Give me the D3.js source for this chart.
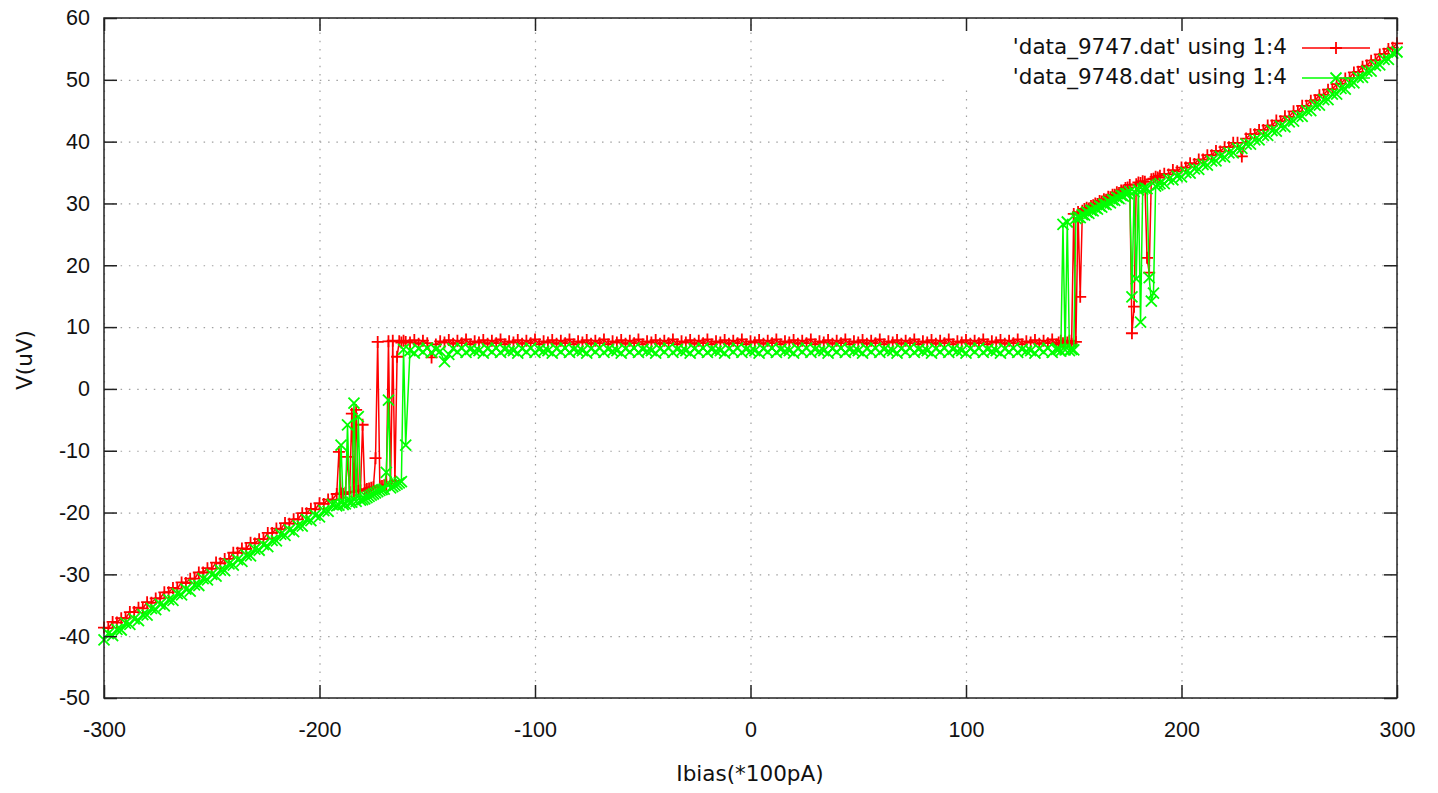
<!DOCTYPE html>
<html lang="en">
<head>
<meta charset="UTF-8">
<title>V(uV) vs Ibias</title>
<script src="https://d3js.org/d3.v7.min.js"></script>
<style>
  body { margin: 0; background: #fff; }
  svg { display: block; font-family: "DejaVu Sans", sans-serif; }
  .axis .tick text { font-size: 21.5px; fill: #111; }
  .axis path, .grid path { display: none; }
  .axis line { stroke: #222; stroke-width: 1.5; }
  .grid line { stroke: #a0a0a0; stroke-width: 1.2; stroke-dasharray: 1.5 6.8; }
  .label, .legend text { font-size: 21.5px; fill: #111; }
</style>
</head>
<body>
<div id="chart"></div>
<script>

// sweep points (Ibias, *100pA)
const ibias = [
  -300,-298,-296,-294,-292,-290,-288,-286,-284,-282,
  -280,-278,-276,-274,-272,-270,-268,-266,-264,-262,
  -260,-258,-256,-254,-252,-250,-248,-246,-244,-242,
  -240,-238,-236,-234,-232,-230,-228,-226,-224,-222,
  -220,-218,-216,-214,-212,-210,-208,-206,-204,-202,
  -200,-198,-196,-194,-192,
  -191,-190,-189,-188,-187,-186,-185,-184,-183,-182,
  -181,-180,-179,-178,-177,-176,-175,-174,-173,-172,
  -171,-170,-169,-168,-167,-166,-165,-164,-163,-162,
  -161,-160,
  -158,-156,-154,-152,-150,-148,-146,-144,-142,-140,
  -138,-136,-134,-132,-130,-128,-126,-124,-122,-120,
  -118,-116,-114,-112,-110,-108,-106,-104,-102,-100,
  -98,-96,-94,-92,-90,-88,-86,-84,-82,-80,
  -78,-76,-74,-72,-70,-68,-66,-64,-62,-60,
  -58,-56,-54,-52,-50,-48,-46,-44,-42,-40,
  -38,-36,-34,-32,-30,-28,-26,-24,-22,-20,
  -18,-16,-14,-12,-10,-8,-6,-4,-2,0,
  2,4,6,8,10,12,14,16,18,20,
  22,24,26,28,30,32,34,36,38,40,
  42,44,46,48,50,52,54,56,58,60,
  62,64,66,68,70,72,74,76,78,80,
  82,84,86,88,90,92,94,96,98,100,
  102,104,106,108,110,112,114,116,118,120,
  122,124,126,128,130,132,134,136,138,140,
  142,
  143,144,145,146,147,148,149,150,151,152,153,154,155,156,
  157,158,159,160,161,162,163,164,165,166,167,168,169,170,171,172,173,174,
  175,176,177,178,179,180,181,182,183,184,185,186,187,188,189,190,
  192,194,196,198,200,
  202,204,206,208,210,212,214,216,218,220,222,224,226,
  228,230,232,234,236,238,240,242,244,246,248,250,
  252,254,256,258,260,262,264,266,268,270,272,274,276,
  278,280,282,284,286,288,290,292,294,296,298,300
];

// 'data_9747.dat' column 4 (uV)
const v9747 = [
  -38.6,-38.7,-37.7,-37.8,-37.1,-37.1,-36.1,-36.1,-35.4,-35.5,
  -34.5,-34.6,-33.9,-33.9,-32.9,-32.9,-32.2,-32.3,-31.3,-31.4,
  -30.7,-30.7,-29.7,-29.7,-29.0,-29.1,-28.1,-28.2,-27.5,-27.5,
  -26.5,-26.5,-25.8,-25.9,-24.9,-25.0,-24.3,-24.3,-23.3,-23.3,
  -22.6,-22.7,-21.7,-21.8,-21.1,-21.1,-20.1,-20.1,-19.4,-19.5,
  -18.5,-18.6,-17.9,-17.9,-17.0,
  -10.2,-16.9,-17.0,-16.8,-11.0,-16.7,-4.0,-16.6,-3.4,-16.5,
  -16.4,-5.8,-16.3,-16.2,-16.1,-16.0,-15.9,-11.2,7.6,-15.8,
  -15.7,-15.6,-15.5,7.7,-15.3,7.8,-14.9,5.2,7.7,7.5,
  7.8,7.6,
  7.5,7.9,7.3,7.8,7.4,5.1,7.2,7.7,
  7.5,7.9,7.3,7.8,7.4,8.0,7.2,7.7,
  7.5,7.9,7.3,7.8,7.4,8.0,7.2,7.7,
  7.5,7.9,7.3,7.8,7.4,8.0,7.2,7.7,
  7.5,7.9,7.3,7.8,7.4,8.0,7.2,7.7,
  7.5,7.9,7.3,7.8,7.4,8.0,7.2,7.7,
  7.5,7.9,7.3,7.8,7.4,8.0,7.2,7.7,
  7.5,7.9,7.3,7.8,7.4,8.0,7.2,7.7,
  7.5,7.9,7.3,7.8,7.4,8.0,7.2,7.7,
  7.5,7.9,7.3,7.8,7.4,8.0,7.2,7.7,
  7.5,7.9,7.3,7.8,7.4,8.0,7.2,7.7,
  7.5,7.9,7.3,7.8,7.4,8.0,7.2,7.7,
  7.5,7.9,7.3,7.8,7.4,8.0,7.2,7.7,
  7.5,7.9,7.3,7.8,7.4,8.0,7.2,7.7,
  7.5,7.9,7.3,7.8,7.4,8.0,7.2,7.7,
  7.5,7.9,7.3,7.8,7.4,8.0,7.2,7.7,
  7.5,7.9,7.3,7.8,7.4,8.0,7.2,7.7,
  7.5,7.9,7.3,7.8,7.4,8.0,7.2,7.7,
  7.5,7.9,7.3,7.8,7.4,8.0,7.2,
  7.5,7.8,7.4,7.7,7.5,7.8,7.3,28.3,7.6,28.6,14.9,28.8,29.1,29.3,
  29.2,29.6,29.7,30.0,29.9,30.4,30.3,30.7,30.6,31.1,31.0,31.4,31.4,31.8,31.7,32.1,32.1,32.5,
  32.6,33.0,9.0,13.3,33.1,33.4,33.3,33.6,33.5,21.2,18.8,33.9,34.0,34.3,34.2,34.5,
  34.8,34.7,35.4,35.2,35.8,
  35.8,36.5,36.4,37.1,37.1,37.8,37.8,38.5,38.4,39.1,39.1,39.8,39.8,
  37.6,40.5,41.2,41.2,41.9,41.9,42.6,42.6,43.4,43.3,44.1,44.0,
  44.9,44.9,45.8,45.8,46.6,46.7,47.5,47.6,48.4,48.5,49.3,49.4,50.2,
  50.3,51.2,51.3,52.1,52.3,53.1,53.2,54.1,54.2,55.0,55.2,55.9
];

// 'data_9748.dat' column 4 (uV)
const v9748 = [
  -40.6,-39.6,-39.9,-38.9,-39.0,-37.9,-38.1,-37.2,-37.5,-36.5,
  -36.6,-35.5,-35.7,-34.8,-35.1,-34.1,-34.2,-33.1,-33.3,-32.4,
  -32.7,-31.7,-31.8,-30.7,-30.9,-30.0,-30.3,-29.3,-29.4,-28.3,
  -28.5,-27.6,-27.9,-26.9,-27.0,-25.9,-26.1,-25.2,-25.5,-24.5,
  -24.6,-23.5,-23.7,-22.8,-23.1,-22.1,-22.2,-21.1,-21.3,-20.4,
  -20.7,-19.7,-19.8,-18.7,-18.9,
  -18.8,-9.1,-18.7,-18.6,-5.8,-18.4,-18.3,-2.3,-18.2,-4.5,
  -18.0,-17.9,-17.8,-17.6,-17.4,-17.2,-17.0,-16.8,-16.6,-16.4,
  -16.3,-16.2,-13.5,-1.8,-16.0,-15.8,-15.6,-15.4,-15.2,-15.0,
  6.4,-9.1,
  6.2,5.8,6.5,6.0,6.6,5.9,6.4,6.1,
  4.4,5.6,6.5,6.0,6.6,5.9,6.4,6.1,
  6.2,5.8,6.5,6.0,6.6,5.9,6.4,6.1,
  6.2,5.8,6.5,6.0,6.6,5.9,6.4,6.1,
  6.2,5.8,6.5,6.0,6.6,5.9,6.4,6.1,
  6.2,5.8,6.5,6.0,6.6,5.9,6.4,6.1,
  6.2,5.8,6.5,6.0,6.6,5.9,6.4,6.1,
  6.2,5.8,6.5,6.0,6.6,5.9,6.4,6.1,
  6.2,5.8,6.5,6.0,6.6,5.9,6.4,6.1,
  6.2,5.8,6.5,6.0,6.6,5.9,6.4,6.1,
  6.2,5.8,6.5,6.0,6.6,5.9,6.4,6.1,
  6.2,5.8,6.5,6.0,6.6,5.9,6.4,6.1,
  6.2,5.8,6.5,6.0,6.6,5.9,6.4,6.1,
  6.2,5.8,6.5,6.0,6.6,5.9,6.4,6.1,
  6.2,5.8,6.5,6.0,6.6,5.9,6.4,6.1,
  6.2,5.8,6.5,6.0,6.6,5.9,6.4,6.1,
  6.2,5.8,6.5,6.0,6.6,5.9,6.4,6.1,
  6.2,5.8,6.5,6.0,6.6,5.9,6.4,6.1,
  6.2,5.8,6.5,6.0,6.6,5.9,6.4,
  6.4,6.1,26.6,6.3,27.0,6.2,6.4,6.3,27.6,27.8,27.7,28.2,28.1,28.6,
  28.4,28.9,28.8,29.3,29.1,29.6,29.4,29.9,29.8,30.3,30.1,30.6,30.5,31.0,30.8,31.3,31.2,31.6,
  31.6,31.9,14.9,31.9,17.8,32.2,10.8,32.3,32.5,32.4,18.0,14.2,15.5,32.8,33.0,33.2,
  33.2,33.9,33.8,34.4,34.3,
  35.0,34.9,35.6,35.5,36.3,36.2,36.9,36.9,37.6,37.5,38.2,38.2,38.9,
  38.9,39.6,39.6,40.3,40.3,41.0,41.0,41.8,41.7,42.5,42.4,43.2,
  43.3,44.1,44.1,45.0,45.0,45.9,45.9,46.8,46.8,47.7,47.7,48.6,48.5,
  49.5,49.5,50.4,50.4,51.4,51.4,52.3,52.4,53.3,53.3,54.3,54.5
];

const seriesNames = ["'data_9747.dat' using 1:4", "'data_9748.dat' using 1:4"];
const seriesColors = ["#ff0000", "#00ff00"];
const xTicks = [-300, -200, -100, 0, 100, 200, 300];
const yTicks = [60, 50, 40, 30, 20, 10, 0, -10, -20, -30, -40, -50];

if (v9747.length !== ibias.length || v9748.length !== ibias.length)
    console.error("length mismatch", ibias.length, v9747.length, v9748.length);

const margin = { top: 18, right: 41, bottom: 95, left: 104 };
const width = 1438 - margin.left - margin.right;
const height = 793 - margin.top - margin.bottom;

const root = d3.select("#chart")
    .append("svg")
    .attr("width", width + margin.left + margin.right)
    .attr("height", height + margin.top + margin.bottom);

const svg = root.append("g")
    .attr("transform", `translate(${margin.left},${margin.top})`);

const x = d3.scaleLinear().domain([-300, 300]).range([0, width]);
const y = d3.scaleLinear().domain([-50, 60]).range([height, 0]);
const fmt = d => String(d);   // plain hyphen like gnuplot

// dotted grid
svg.append("g")
    .attr("class", "grid")
    .call(d3.axisLeft(y).tickValues(yTicks).tickSize(-width).tickFormat(""));
svg.append("g")
    .attr("class", "grid")
    .attr("transform", `translate(0,${height})`)
    .call(d3.axisBottom(x).tickValues(xTicks).tickSize(-height).tickFormat(""));

// opaque key box
svg.append("rect")
    .attr("x", 841)
    .attr("y", 1)
    .attr("width", width - 842)
    .attr("height", 71)
    .attr("fill", "#fff");

// data
const plusPath = "M-6,0H6M0,-6V6";
const crossPath = "M-5.5,-5.5L5.5,5.5M-5.5,5.5L5.5,-5.5";
const markers = [plusPath, crossPath];

const line = d3.line()
    .x(d => x(d[0]))
    .y(d => y(d[1]));

[v9747, v9748].forEach((vals, k) => {
    const pts = ibias.map((i, n) => [i, vals[n]]);
    svg.append("path")
        .datum(pts)
        .attr("d", line)
        .attr("fill", "none")
        .attr("stroke", seriesColors[k])
        .attr("stroke-width", 1.5);
    svg.append("g")
        .selectAll("path")
        .data(pts)
        .enter()
        .append("path")
        .attr("d", markers[k])
        .attr("transform", d => `translate(${x(d[0])},${y(d[1])})`)
        .attr("fill", "none")
        .attr("stroke", seriesColors[k])
        .attr("stroke-width", 1.8);
});

// axes with inward ticks, mirrored on all sides
svg.append("g")
    .attr("class", "axis")
    .call(d3.axisLeft(y).tickValues(yTicks).tickSize(-13).tickPadding(14).tickFormat(fmt));
svg.append("g")
    .attr("class", "axis")
    .attr("transform", `translate(${width},0)`)
    .call(d3.axisRight(y).tickValues(yTicks).tickSize(-13).tickFormat(""));
svg.append("g")
    .attr("class", "axis")
    .attr("transform", `translate(0,${height})`)
    .call(d3.axisBottom(x).tickValues(xTicks).tickSize(-13).tickPadding(24).tickFormat(fmt));
svg.append("g")
    .attr("class", "axis")
    .call(d3.axisTop(x).tickValues(xTicks).tickSize(-13).tickFormat(""));

svg.append("rect")
    .attr("width", width)
    .attr("height", height)
    .attr("fill", "none")
    .attr("stroke", "#222")
    .attr("stroke-width", 1.5);

// key
const legend = svg.append("g").attr("class", "legend");
seriesNames.forEach((name, k) => {
    const ly = 30 + k * 30;
    legend.append("text")
        .attr("x", 1183)
        .attr("y", ly)
        .attr("text-anchor", "end")
        .attr("dominant-baseline", "middle")
        .text(name);
    legend.append("line")
        .attr("x1", 1198).attr("x2", 1266)
        .attr("y1", ly).attr("y2", ly)
        .attr("stroke", seriesColors[k])
        .attr("stroke-width", 1.5);
    legend.append("path")
        .attr("d", markers[k])
        .attr("transform", `translate(1232,${ly})`)
        .attr("fill", "none")
        .attr("stroke", seriesColors[k])
        .attr("stroke-width", 1.8);
});

// axis labels
root.append("text")
    .attr("class", "label")
    .attr("transform", "translate(32,360) rotate(-90)")
    .attr("text-anchor", "middle")
    .text("V(uV)");

root.append("text")
    .attr("class", "label")
    .attr("x", 750)
    .attr("y", 781)
    .attr("text-anchor", "middle")
    .text("Ibias(*100pA)");
</script>
</body>
</html>
